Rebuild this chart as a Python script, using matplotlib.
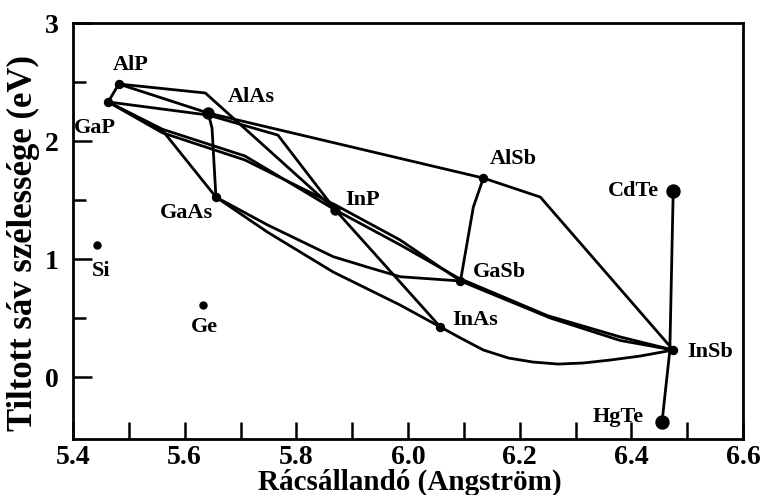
import matplotlib
matplotlib.use("Agg")
import matplotlib.pyplot as plt

plt.rcParams['font.family'] = ['Liberation Serif', 'DejaVu Serif']
plt.rcParams['font.weight'] = 'bold'

# Compounds: (lattice constant [A], band gap [eV])
names = ['AlP', 'GaP', 'AlAs', 'GaAs', 'InP', 'AlSb', 'GaSb', 'InAs', 'InSb', 'CdTe', 'HgTe', 'Si', 'Ge']
lattice = [5.482, 5.463, 5.642, 5.656, 5.870, 6.135, 6.094, 6.058, 6.475, 6.475, 6.455, 5.443, 5.633]
gap = [2.483, 2.331, 2.237, 1.525, 1.415, 1.686, 0.814, 0.424, 0.229, 1.576, -0.381, 1.119, 0.610]
marker_px = [8, 8, 11, 8, 9, 8, 8, 8, 8, 13, 13, 7, 7]
label_offset_px = [(12, -19), (-13, 26), (43, -16), (-29, 16), (27, -10), (30, -19), (39, -9),
                   (35, -7), (37, 2), (-40, 0), (-44, -5), (4, 26), (1, 22)]

# Alloy curves (waypoints)
curves = {
    'AlP-GaP': [(5.482, 2.483), (5.463, 2.331)],
    'AlP-InP': [(5.482, 2.483), (5.637, 2.407), (5.870, 1.415)],
    'AlP-AlAs': [(5.482, 2.483), (5.642, 2.237)],
    'GaP-AlAs-InP': [(5.463, 2.331), (5.642, 2.22), (5.767, 2.05), (5.870, 1.415)],
    'GaP-InP': [(5.463, 2.331), (5.560, 2.10), (5.708, 1.873), (5.870, 1.415)],
    'GaP-GaAs': [(5.463, 2.331), (5.561, 2.085), (5.656, 1.525)],
    'AlAs-GaAs': [(5.642, 2.237), (5.649, 2.11), (5.656, 1.525)],
    'AlAs-AlSb': [(5.642, 2.237), (6.135, 1.686)],
    'AlSb-GaSb': [(6.135, 1.686), (6.117, 1.44), (6.094, 0.814)],
    'AlSb-InSb': [(6.135, 1.686), (6.237, 1.525), (6.475, 0.229)],
    'InAs-InSb': [(6.058, 0.424), (6.094, 0.331), (6.135, 0.229), (6.180, 0.161), (6.224, 0.127),
                  (6.269, 0.110), (6.314, 0.119), (6.362, 0.144), (6.416, 0.178), (6.475, 0.229)],
    'GaAs-InAs': [(5.656, 1.525), (5.748, 1.229), (5.866, 0.890), (5.986, 0.610), (6.058, 0.424)],
    'GaAs-GaSb': [(5.656, 1.525), (5.748, 1.29), (5.866, 1.02), (5.927, 0.932), (5.986, 0.85), (6.094, 0.814)],
    'InP-InAs': [(5.870, 1.415), (6.058, 0.424)],
    'InP-InSb': [(5.870, 1.415), (5.986, 1.12), (6.090, 0.84), (6.250, 0.52), (6.380, 0.34), (6.475, 0.229)],
    'GaSb-InSb': [(6.094, 0.814), (6.255, 0.50), (6.380, 0.31), (6.475, 0.229)],
    'GaP-GaSb': [(5.463, 2.331), (5.560, 2.07), (5.708, 1.839), (5.870, 1.458), (5.986, 1.161), (6.094, 0.814)],
    'CdTe-HgTe': [(6.475, 1.576), (6.469, 0.229), (6.455, -0.381)],
}

W, H = 763, 495
fig = plt.figure(figsize=(W / 100, H / 100), dpi=100)
ax = fig.add_axes([73 / W, 1 - 439 / H, (743 - 73) / W, (439 - 23) / H])

for key, pts in curves.items():
    xs = [p[0] for p in pts]
    ys = [p[1] for p in pts]
    ax.plot(xs, ys, color='black', lw=2.0, solid_joinstyle='round', solid_capstyle='round', zorder=2)

for n, a, e, m, off in zip(names, lattice, gap, marker_px, label_offset_px):
    ax.plot([a], [e], 'o', color='black', ms=m * 0.72, zorder=3)
    ax.annotate(n, (a, e), xytext=(off[0] * 0.72, -off[1] * 0.72), textcoords='offset points',
                ha='center', va='center', fontsize=16, fontweight='bold')

ax.set_xlim(5.4, 6.6)
ax.set_ylim(-0.525, 3.0)
ax.set_xticks([5.4, 5.6, 5.8, 6.0, 6.2, 6.4, 6.6])
ax.set_xticklabels(['5.4', '5.6', '5.8', '6.0', '6.2', '6.4', '6.6'])
ax.set_xticks([5.5, 5.7, 5.9, 6.1, 6.3, 6.5], minor=True)
ax.set_yticks([0, 1, 2, 3])
ax.set_yticks([0.5, 1.5, 2.5], minor=True)
ax.tick_params(axis='both', which='both', direction='in', width=1.8, labelsize=20,
               top=False, right=False)
ax.tick_params(axis='x', which='both', length=12, pad=4)
ax.tick_params(axis='y', which='major', length=14, pad=10)
ax.tick_params(axis='y', which='minor', length=9)
for lab in ax.get_xticklabels() + ax.get_yticklabels():
    lab.set_fontweight('bold')
for s in ax.spines.values():
    s.set_linewidth(2)

ax.set_xlabel('Rácsállandó (Angström)', fontsize=21, fontweight='bold')
ax.xaxis.set_label_coords((410 - 73) / (743 - 73), -(482 - 439) / (439 - 23), transform=ax.transAxes)
ax.xaxis.label.set_va('center')
ax.set_ylabel('Tiltott sáv szélessége (eV)', fontsize=25, fontweight='bold')
ax.yaxis.set_label_coords(-(73 - 23) / (743 - 73), (439 - 243) / (439 - 23), transform=ax.transAxes)
ax.yaxis.label.set_va('center')

fig.savefig('out.png', dpi=100)
